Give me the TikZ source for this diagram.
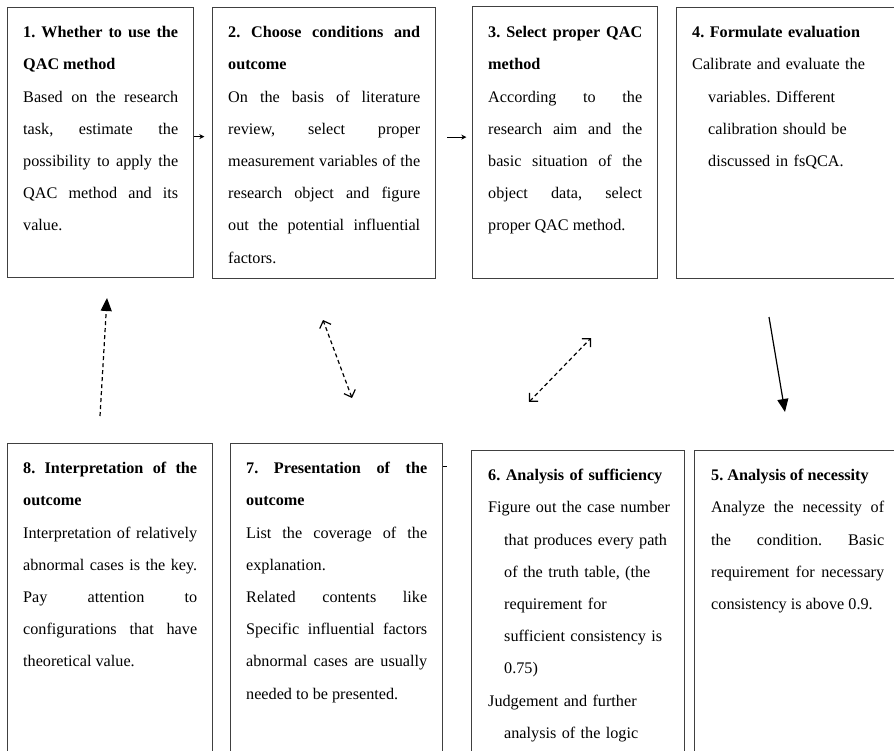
\documentclass[tikz,border=0pt]{standalone}
\usepackage{fontspec}
\setmainfont{Liberation Serif}
\usetikzlibrary{arrows.meta}
\newcommand{\qacfont}{\fontsize{16.2}{32.2}\selectfont\frenchspacing\parindent=0pt\parskip=0pt\tolerance=10000\hbadness=10000\hyphenpenalty=10000}
\tikzset{
  stepbox/.style={draw=black!75, line width=1.3pt, inner sep=0pt, anchor=north west},
  steptext/.style={anchor=north west, inner sep=0pt, font=\qacfont, align=justify},
  hangtext/.style={anchor=north west, inner sep=0pt, font=\qacfont, align=left},
  dashlink/.style={line width=1.2pt, dash pattern=on 4pt off 3pt, {Straight Barb[length=6pt,width=12pt]}-{Straight Barb[length=6pt,width=12pt]}},
  solidlink/.style={line width=1.2pt, -{Triangle[length=13pt,width=11pt]}},
  shortlink/.style={line width=1pt, -{Stealth[length=5pt,width=5pt]}}
}
\begin{document}
\begin{tikzpicture}[x=1pt,y=-1pt]
    \useasboundingbox[fill=white] (0,0) rectangle (894,751);
    \clip (0,0) rectangle (894,751);
    \node[stepbox, minimum width=186pt, minimum height=270pt] (q1) at (7,7) {};
    \node[stepbox, minimum width=223pt, minimum height=271pt] (q2) at (212,7) {};
    \node[stepbox, minimum width=185pt, minimum height=272pt] (q3) at (472,6) {};
    \node[stepbox, minimum width=240pt, minimum height=271pt] (q4) at (676,7) {};
    \node[stepbox, minimum width=205pt, minimum height=330pt] (q8) at (7,443) {};
    \node[stepbox, minimum width=212pt, minimum height=330pt] (q7) at (230,443) {};
    \node[stepbox, minimum width=213pt, minimum height=330pt] (q6) at (471,450) {};
    \node[stepbox, minimum width=240pt, minimum height=330pt] (q5) at (694,450) {};
    \node[steptext, text width=155pt] (t1) at ([shift={(16,8)}]q1.north west) {\strut\textbf{1. Whether to use the\linebreak QAC method}\par Based on the research\linebreak task, estimate the\linebreak possibility to apply the\linebreak QAC method and its\linebreak value.};
    \node[steptext, text width=192pt] (t2) at ([shift={(16,8)}]q2.north west) {\strut\textbf{2. Choose conditions and\linebreak outcome}\par On the basis of literature\linebreak review, select proper\linebreak measurement variables of the\linebreak research object and figure\linebreak out the potential influential\linebreak factors.};
    \node[steptext, text width=154pt] (t3) at ([shift={(16,9)}]q3.north west) {\strut\textbf{3. Select proper QAC\linebreak method}\par According to the\linebreak research aim and the\linebreak basic situation of the\linebreak object data, select\linebreak proper QAC method.};
    \node[hangtext, text width=195pt] (t4) at ([shift={(16,8)}]q4.north west) {\strut\textbf{4. Formulate evaluation}\par \hangindent=16pt\hangafter=1 Calibrate and evaluate the\newline variables. Different\newline calibration should be\newline discussed in fsQCA.\par};
    \node[steptext, text width=174pt] (t8) at ([shift={(16,8)}]q8.north west) {\strut\textbf{8. Interpretation of the\linebreak outcome}\par Interpretation of relatively\linebreak abnormal cases is the key.\linebreak Pay attention to\linebreak configurations that have\linebreak theoretical value.};
    \node[steptext, text width=181pt] (t7) at ([shift={(16,8)}]q7.north west) {\strut\textbf{7. Presentation of the\linebreak outcome}\par List the coverage of the\linebreak explanation.\par Related contents like\linebreak Specific influential factors\linebreak abnormal cases are usually\linebreak needed to be presented.};
    \node[hangtext, text width=182pt] (t6) at ([shift={(17,8)}]q6.north west) {\strut\textbf{6. Analysis of sufficiency}\par \hangindent=16pt\hangafter=1 Figure out the case number\newline that produces every path\newline of the truth table, (the\newline requirement for\newline sufficient consistency is\newline 0.75)\par \hangindent=16pt\hangafter=1 Judgement and further\newline analysis of the logic\par};
    \node[steptext, text width=173pt] (t5) at ([shift={(17,8)}]q5.north west) {\strut\textbf{5. Analysis of necessity}\par Analyze the necessity of\linebreak the condition. Basic\linebreak requirement for necessary\linebreak consistency is above 0.9.};
    \coordinate (up8) at (100,416);
    \coordinate (up1) at (107,298);
    \coordinate (b7) at (352,398);
    \coordinate (b2) at (323,320);
    \coordinate (b6) at (529,402);
    \coordinate (b3) at (591,338);
    \coordinate (dn4) at (769,317);
    \coordinate (dn5) at (785,412);
    \draw[solidlink, dash pattern=on 4pt off 3pt] (up8) -- (up1);
    \draw[dashlink] (b7) -- (b2);
    \draw[dashlink] (b6) -- (b3);
    \draw[solidlink] (dn4) -- (dn5);
    \draw[shortlink] ([yshift=6pt]q1.east) -- ++(10,0);
    \draw[shortlink] ([xshift=11pt,yshift=6pt]q2.east) -- ++(19,0);
    \draw[line width=1pt] ([yshift=-23pt]q7.north east) -- ++(4,0);
  \end{tikzpicture}
\end{document}
